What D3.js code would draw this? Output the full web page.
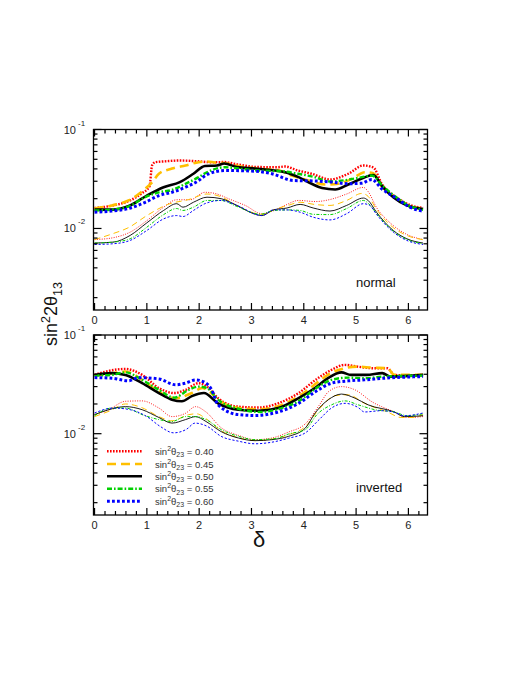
<!DOCTYPE html>
<html><head><meta charset="utf-8">
<script src="https://cdn.jsdelivr.net/npm/d3@7"></script>
<style>body{margin:0;background:#fff}text{font-family:"Liberation Sans",Arial,sans-serif}</style>
</head><body><svg id="c" width="532" height="688"></svg>
<script>
// ---------- DATA ----------
const deltaTicks = [0,1,2,3,4,5,6];
const yMajorTicks = [0.01, 0.1];
const yMajorLabels = [["10","-2"],["10","-1"]];
const theta23 = ["0.40","0.45","0.50","0.55","0.60"];
const panelLabels = ["normal","inverted"];

// normal hierarchy, upper (thick) curves
const topThick040 = [[0,0.0161],[0.36,0.0171],[0.68,0.0192],[0.9,0.0226],[1.05,0.0266],[1.1,0.0433],[1.16,0.0467],[1.38,0.0478],[1.63,0.0486],[1.95,0.0478],[2.23,0.0467],[2.48,0.0469],[2.74,0.0443],[3.1,0.0418],[3.5,0.0416],[3.64,0.0423],[3.89,0.0385],[4.15,0.0357],[4.5,0.0313],[4.85,0.0357],[5.14,0.0433],[5.33,0.0413],[5.49,0.0283],[5.81,0.0200],[6.0,0.0175],[6.28,0.0161]];
const topThick045 = [[0,0.0159],[0.33,0.0171],[0.65,0.0192],[0.97,0.0252],[1.1,0.0292],[1.23,0.0357],[1.48,0.0403],[1.74,0.0433],[1.99,0.0467],[2.15,0.0475],[2.3,0.0464],[2.5,0.0456],[2.8,0.0423],[3.2,0.0399],[3.5,0.0389],[3.77,0.0343],[4.09,0.0305],[4.41,0.0278],[4.66,0.0283],[4.92,0.0318],[5.17,0.0370],[5.33,0.0361],[5.49,0.0266],[5.81,0.0196],[6.0,0.0171],[6.28,0.0159]];
const topThick050 = [[0,0.0155],[0.36,0.0155],[0.68,0.0171],[1.0,0.0215],[1.32,0.0261],[1.63,0.0294],[1.89,0.0357],[2.11,0.0428],[2.34,0.0433],[2.48,0.0453],[2.72,0.0418],[3.07,0.0403],[3.45,0.0385],[3.64,0.0370],[3.9,0.0330],[4.15,0.0283],[4.35,0.0256],[4.6,0.0248],[4.85,0.0278],[5.11,0.0320],[5.33,0.0347],[5.5,0.0266],[5.71,0.0207],[5.97,0.0171],[6.28,0.0157]];
const topThick055 = [[0,0.0152],[0.33,0.0155],[0.65,0.0167],[0.97,0.0207],[1.23,0.0232],[1.48,0.0245],[1.74,0.0283],[1.99,0.0330],[2.15,0.0370],[2.5,0.0416],[2.75,0.0403],[3.13,0.0385],[3.57,0.0379],[3.89,0.0357],[4.21,0.0330],[4.5,0.0298],[4.85,0.0311],[5.11,0.0330],[5.3,0.0343],[5.5,0.0272],[5.81,0.0199],[6.0,0.0171],[6.28,0.0154]];
const topThick060 = [[0,0.0146],[0.33,0.0150],[0.65,0.0159],[0.97,0.0184],[1.23,0.0215],[1.48,0.0232],[1.74,0.0261],[1.99,0.0305],[2.15,0.0351],[2.5,0.0385],[3.07,0.0379],[3.39,0.0357],[3.8,0.0305],[4.22,0.0302],[4.53,0.0294],[4.85,0.0283],[5.11,0.0287],[5.3,0.0313],[5.49,0.0252],[5.81,0.0196],[6.0,0.0167],[6.28,0.0149]];
// normal hierarchy, lower (thin) curves
const topThin040 = [[0,0.00772],[0.36,0.00807],[0.68,0.00918],[1.0,0.0120],[1.32,0.0164],[1.57,0.0195],[1.83,0.0195],[2.11,0.0232],[2.3,0.0226],[2.6,0.0196],[2.88,0.0171],[3.2,0.0141],[3.39,0.0149],[3.64,0.0171],[3.9,0.0192],[4.22,0.0187],[4.5,0.0196],[4.82,0.0223],[5.14,0.0260],[5.23,0.0236],[5.39,0.0163],[5.62,0.0118],[5.94,0.00887],[6.28,0.00772]];
const topThin045 = [[0,0.00772],[0.36,0.00890],[0.65,0.0102],[1.0,0.0135],[1.4,0.0175],[1.8,0.0196],[2.15,0.0223],[2.4,0.0211],[2.75,0.0167],[3.2,0.0139],[3.45,0.0156],[3.7,0.0171],[3.93,0.0184],[4.2,0.0175],[4.5,0.0171],[4.82,0.0192],[5.11,0.0226],[5.23,0.0211],[5.39,0.0156],[5.71,0.0102],[5.97,0.0085],[6.28,0.0077]];
const topThin050 = [[0,0.00712],[0.36,0.00728],[0.68,0.0085],[1.0,0.0114],[1.32,0.0152],[1.57,0.0178],[1.69,0.0164],[1.89,0.0184],[2.15,0.0207],[2.42,0.0200],[2.72,0.0171],[3.04,0.0141],[3.2,0.0135],[3.42,0.0154],[3.68,0.0161],[3.93,0.0175],[4.18,0.0161],[4.5,0.0150],[4.82,0.0171],[5.14,0.0203],[5.23,0.0192],[5.39,0.0146],[5.71,0.00955],[5.97,0.00787],[6.28,0.00712]];
const topThin055 = [[0,0.00712],[0.36,0.00728],[0.68,0.00787],[1.0,0.0103],[1.32,0.0138],[1.57,0.0159],[1.69,0.0152],[1.89,0.0164],[2.15,0.0192],[2.42,0.0192],[2.72,0.0167],[3.17,0.0139],[3.42,0.0152],[3.68,0.0154],[3.93,0.0152],[4.18,0.0139],[4.5,0.0138],[4.82,0.0159],[5.14,0.0192],[5.23,0.0180],[5.39,0.0142],[5.71,0.0094],[5.97,0.00774],[6.28,0.00701]];
const topThin060 = [[0,0.00689],[0.36,0.00701],[0.68,0.00757],[1.0,0.00955],[1.32,0.0125],[1.57,0.0135],[1.69,0.0132],[1.89,0.0152],[2.11,0.0178],[2.42,0.0192],[2.72,0.0171],[3.2,0.0135],[3.42,0.0154],[3.68,0.0154],[3.93,0.0146],[4.18,0.0130],[4.5,0.0122],[4.82,0.0141],[5.14,0.0178],[5.26,0.0171],[5.39,0.0139],[5.71,0.0092],[5.97,0.00757],[6.28,0.00689]];

// inverted hierarchy, upper (thick) curves
const botThick040 = [[0,0.0394],[0.27,0.0433],[0.59,0.0453],[0.91,0.0394],[1.23,0.0290],[1.52,0.0258],[1.74,0.0278],[1.99,0.0325],[2.15,0.0300],[2.36,0.0229],[2.75,0.0188],[3.13,0.0184],[3.51,0.0203],[3.9,0.0258],[4.25,0.0359],[4.53,0.0443],[4.78,0.0498],[5.03,0.0478],[5.35,0.0460],[5.6,0.0460],[5.73,0.0394],[6.0,0.0389],[6.28,0.0394]];
const botThick045 = [[0,0.0388],[0.3,0.0408],[0.59,0.0426],[0.91,0.0351],[1.23,0.0266],[1.55,0.0229],[1.86,0.0258],[2.06,0.0290],[2.2,0.0266],[2.36,0.0221],[2.75,0.0182],[3.13,0.0177],[3.58,0.0196],[4.03,0.0266],[4.28,0.0337],[4.53,0.0413],[4.78,0.0460],[5.03,0.0478],[5.3,0.0467],[5.6,0.0460],[5.73,0.0394],[6.28,0.0394]];
const botThick050 = [[0,0.0394],[0.33,0.0411],[0.59,0.0394],[0.91,0.0325],[1.23,0.0258],[1.48,0.0221],[1.67,0.0213],[1.86,0.0240],[2.09,0.0258],[2.36,0.0203],[2.75,0.0175],[3.13,0.0171],[3.51,0.0182],[3.9,0.0229],[4.22,0.0292],[4.47,0.0368],[4.72,0.0418],[4.9,0.0394],[5.2,0.0394],[5.5,0.0411],[5.66,0.0379],[6.28,0.0394]];
const botThick055 = [[0,0.0388],[0.33,0.0394],[0.59,0.0418],[0.91,0.0351],[1.23,0.0278],[1.52,0.0232],[1.8,0.0278],[1.99,0.0300],[2.15,0.0290],[2.36,0.0221],[2.75,0.0179],[3.19,0.0166],[3.58,0.0182],[3.9,0.0213],[4.22,0.0285],[4.53,0.0351],[4.85,0.0370],[5.16,0.0365],[5.54,0.0379],[6.28,0.0388]];
const botThick060 = [[0,0.0370],[0.33,0.0365],[0.65,0.0343],[0.84,0.0370],[1.23,0.0359],[1.55,0.0313],[1.74,0.0325],[1.93,0.0351],[2.13,0.0325],[2.24,0.0278],[2.36,0.0196],[2.75,0.0156],[3.07,0.0153],[3.51,0.0166],[3.9,0.0203],[4.22,0.0266],[4.53,0.0325],[4.85,0.0343],[5.16,0.0351],[5.54,0.0365],[6.28,0.0379]];
// inverted hierarchy, lower (thin) curves
const botThin040 = [[0,0.0156],[0.27,0.0175],[0.59,0.0213],[0.91,0.0215],[1.23,0.0182],[1.48,0.0149],[1.74,0.0161],[1.93,0.0188],[2.13,0.0166],[2.42,0.0115],[2.75,0.00962],[3.07,0.0087],[3.39,0.00904],[3.71,0.0104],[4.03,0.0126],[4.3,0.0196],[4.47,0.0266],[4.72,0.0300],[4.98,0.0278],[5.3,0.0211],[5.73,0.0166],[5.98,0.0146],[6.28,0.0149]];
const botThin045 = [[0,0.0149],[0.3,0.0171],[0.59,0.0200],[0.91,0.0183],[1.23,0.0149],[1.48,0.0135],[1.8,0.0156],[1.95,0.0159],[2.13,0.0142],[2.42,0.0107],[2.75,0.0091],[3.07,0.0085],[3.39,0.0088],[3.71,0.00977],[4.03,0.0118],[4.3,0.0179],[4.6,0.0243],[4.85,0.0248],[5.16,0.0203],[5.6,0.0166],[5.86,0.0146],[6.1,0.0146],[6.28,0.0156]];
const botThin050 = [[0,0.0156],[0.27,0.0175],[0.59,0.0188],[0.91,0.0175],[1.23,0.0146],[1.48,0.0128],[1.74,0.0139],[1.93,0.0149],[2.13,0.0133],[2.42,0.0105],[2.75,0.00904],[3.07,0.0085],[3.39,0.0087],[3.71,0.0094],[4.03,0.0114],[4.22,0.0163],[4.47,0.0221],[4.72,0.0252],[4.98,0.0229],[5.23,0.0196],[5.73,0.0166],[5.92,0.0149],[6.28,0.0152]];
const botThin055 = [[0,0.0152],[0.33,0.0182],[0.59,0.0182],[0.91,0.0156],[1.23,0.0139],[1.48,0.0133],[1.74,0.0149],[1.93,0.0149],[2.13,0.0139],[2.42,0.0110],[2.75,0.0094],[3.07,0.0087],[3.45,0.0089],[3.71,0.00993],[4.03,0.0110],[4.25,0.0156],[4.53,0.0196],[4.79,0.0215],[5.04,0.0196],[5.36,0.0175],[5.73,0.0166],[5.98,0.0152],[6.28,0.0159]];
const botThin060 = [[0,0.0162],[0.36,0.0182],[0.68,0.0175],[1.0,0.0149],[1.25,0.0119],[1.51,0.0102],[1.76,0.0111],[1.92,0.0128],[2.15,0.0119],[2.42,0.0094],[2.75,0.0084],[3.07,0.0079],[3.39,0.0082],[3.71,0.0090],[4.03,0.0102],[4.3,0.0140],[4.53,0.0182],[4.79,0.0203],[5.04,0.0184],[5.16,0.0166],[5.48,0.0171],[5.73,0.0165],[5.92,0.0152],[6.28,0.0162]];

// ---------- STYLE ----------
const colors = ["#ff0000","#ffbf00","#000000","#00d000","#0000ff"];
const thickW = [2.4,2.6,2.6,2.4,3.0];
const thickDash = ["1.6,1.4","9,5",null,"5,2,1.6,2","2.8,2.2"];
const thinW = [0.9,1.0,0.9,1.0,1.0];
const thinDash = ["1,1.4","6,4",null,"3,1.5,1,1.5","2.2,1.8"];

const svg = d3.select("#c");
const x = d3.scaleLinear().domain([-0.02, 6.365]).range([93.5, 427.5]);
const yTop = d3.scaleLog().domain([0.0015, 0.1]).range([310, 129.5]);
const yBot = d3.scaleLog().domain([0.0015, 0.1]).range([515, 335]);

function panel(y, thickSets, thinSets, label, idx) {
  const g = svg.append("g");
  const [x0, x1] = x.range();
  const [yb, yt] = y.range();
  const cid = "clip" + idx;
  svg.append("clipPath").attr("id", cid).append("rect")
    .attr("x", x0).attr("y", yt).attr("width", x1 - x0).attr("height", yb - yt);
  const lg = g.append("g").attr("clip-path", `url(#${cid})`);
  const line = d3.line().x(d => x(d[0])).y(d => y(d[1])).curve(d3.curveMonotoneX);
  thinSets.forEach((data, i) => {
    lg.append("path").attr("d", line(data)).attr("fill", "none")
      .attr("stroke", colors[i]).attr("stroke-width", thinW[i])
      .attr("stroke-dasharray", thinDash[i]);
  });
  thickSets.forEach((data, i) => {
    lg.append("path").attr("d", line(data)).attr("fill", "none")
      .attr("stroke", colors[i]).attr("stroke-width", thickW[i])
      .attr("stroke-dasharray", thickDash[i]);
  });
  // frame
  g.append("rect").attr("x", x0).attr("y", yt).attr("width", x1 - x0).attr("height", yb - yt)
    .attr("fill", "none").attr("stroke", "#000").attr("stroke-width", 1.3);
  // x ticks
  const xt = d3.range(0, 32).map(i => +(i * 0.2).toFixed(1)).filter(v => v <= 6.3);
  xt.forEach(v => {
    const major = Math.abs(v - Math.round(v)) < 1e-6;
    const len = major ? 7 : 4;
    const px = x(v);
    g.append("line").attr("x1", px).attr("x2", px).attr("y1", yb).attr("y2", yb - len).attr("stroke", "#000").attr("stroke-width", 1.2);
    g.append("line").attr("x1", px).attr("x2", px).attr("y1", yt).attr("y2", yt + len).attr("stroke", "#000").attr("stroke-width", 1.2);
  });
  deltaTicks.forEach(v => {
    g.append("text").attr("x", x(v)).attr("y", yb + 13.5).attr("text-anchor", "middle")
      .attr("font-size", 11).attr("fill", "#222").text(v);
  });
  // y ticks
  const [dmin, dmax] = y.domain();
  const yt2 = [];
  [0.001, 0.01].forEach(b => { for (let k = 2; k <= 9; k++) { const v = b * k; if (v >= dmin && v <= dmax) yt2.push(v); } });
  yt2.forEach(v => {
    const py = y(v);
    g.append("line").attr("x1", x0).attr("x2", x0 + 4).attr("y1", py).attr("y2", py).attr("stroke", "#000").attr("stroke-width", 1.2);
    g.append("line").attr("x1", x1).attr("x2", x1 - 4).attr("y1", py).attr("y2", py).attr("stroke", "#000").attr("stroke-width", 1.2);
  });
  yMajorTicks.forEach((v, i) => {
    const py = y(v);
    g.append("line").attr("x1", x0).attr("x2", x0 + 8).attr("y1", py).attr("y2", py).attr("stroke", "#000").attr("stroke-width", 1.2);
    g.append("line").attr("x1", x1).attr("x2", x1 - 8).attr("y1", py).attr("y2", py).attr("stroke", "#000").attr("stroke-width", 1.2);
    g.append("text").attr("x", 76).attr("y", py + 4).attr("text-anchor", "end")
      .attr("font-size", 11).attr("fill", "#222").text(yMajorLabels[i][0]);
    g.append("text").attr("x", 78).attr("y", py - 4).attr("text-anchor", "start")
      .attr("font-size", 8).attr("fill", "#222").text(yMajorLabels[i][1]);
  });
  // panel label
  g.append("text").attr("x", 356).attr("y", yb - 23).attr("font-size", 13).attr("fill", "#111").text(label);
}

panel(yTop, [topThick040, topThick045, topThick050, topThick055, topThick060],
  [topThin040, topThin045, topThin050, topThin055, topThin060], panelLabels[0], 0);
panel(yBot, [botThick040, botThick045, botThick050, botThick055, botThick060],
  [botThin040, botThin045, botThin050, botThin055, botThin060], panelLabels[1], 1);

// legend
const legY = [451.3, 464, 476.3, 488.7, 501.3];
theta23.forEach((t, i) => {
  svg.append("line").attr("x1", 107).attr("x2", 142).attr("y1", legY[i]).attr("y2", legY[i])
    .attr("stroke", colors[i]).attr("stroke-width", thickW[i]).attr("stroke-dasharray", thickDash[i]);
  const tx = svg.append("text").attr("x", 155).attr("y", legY[i] + 3.5).attr("font-size", 9.5).attr("fill", "#333");
  tx.append("tspan").text("sin");
  tx.append("tspan").attr("dy", -4).attr("font-size", 7).text("2");
  tx.append("tspan").attr("dy", 4).text("θ");
  tx.append("tspan").attr("dy", 2.5).attr("font-size", 7).text("23");
  tx.append("tspan").attr("dy", -2.5).text(" = " + t);
});

// axis titles
const yt = svg.append("text").attr("transform", "translate(57,314) rotate(-90)")
  .attr("text-anchor", "middle").attr("font-size", 18).attr("fill", "#111");
yt.append("tspan").text("sin");
yt.append("tspan").attr("dy", -7).attr("font-size", 12.5).text("2");
yt.append("tspan").attr("dy", 7).text("2θ");
yt.append("tspan").attr("dy", 5).attr("font-size", 12.5).text("13");

svg.append("text").attr("x", 259).attr("y", 547).attr("text-anchor", "middle")
  .attr("font-family", "'Liberation Serif','DejaVu Serif',serif").attr("font-size", 22).attr("fill", "#111").text("δ");
</script>
</body></html>
